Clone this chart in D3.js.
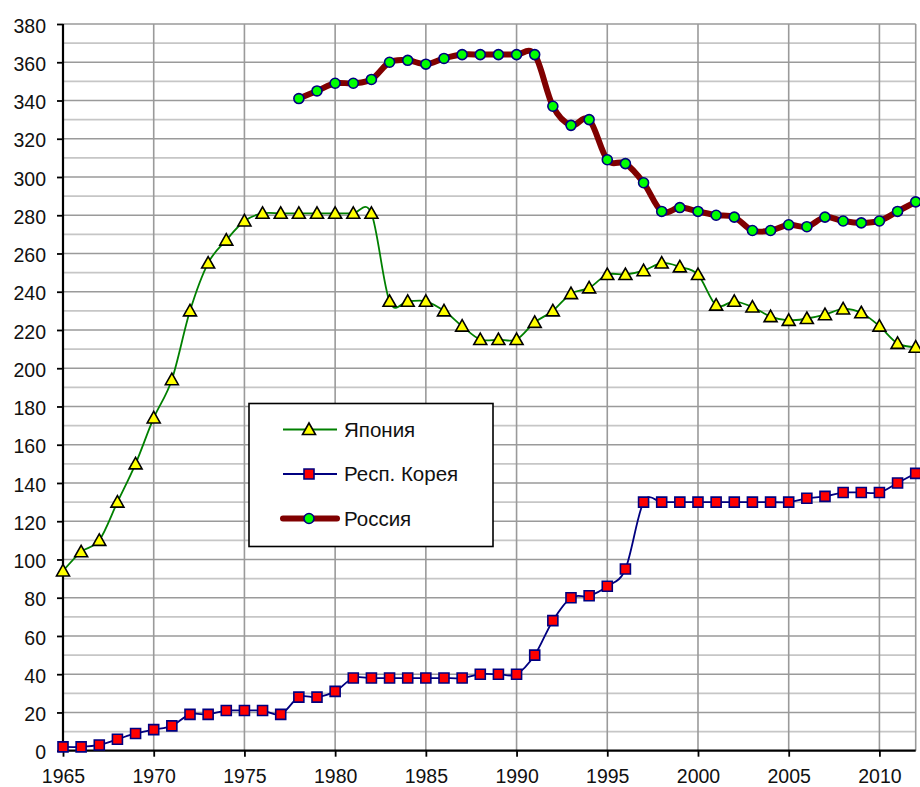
<!DOCTYPE html>
<html>
<head>
<meta charset="utf-8">
<script src="https://cdn.jsdelivr.net/npm/d3@7/dist/d3.min.js"></script>
<style>
  html, body { margin: 0; padding: 0; background: #fff; }
  svg { display: block; font-family: "Liberation Sans", Arial, sans-serif; }
</style>
</head>
<body>
<svg id="chart" width="920" height="787"></svg>
<script>
// Years and yearly values for each series
const yearsJapan = d3.range(1965, 2013);
const japan = [94, 104, 110, 130, 150, 174, 194, 230, 255, 267,
               277, 281, 281, 281, 281, 281, 281, 281, 235, 235,
               235, 230, 222, 215, 215, 215, 224, 230, 239, 242,
               249, 249, 251, 255, 253, 249, 233, 235, 232, 227,
               225, 226, 228, 231, 229, 222, 213, 211];

const yearsKorea = d3.range(1965, 2013);
const korea = [2, 2, 3, 6, 9, 11, 13, 19, 19, 21,
               21, 21, 19, 28, 28, 31, 38, 38, 38, 38,
               38, 38, 38, 40, 40, 40, 50, 68, 80, 81,
               86, 95, 130, 130, 130, 130, 130, 130, 130, 130,
               130, 132, 133, 135, 135, 135, 140, 145];

const yearsRussia = d3.range(1978, 2013);
const russia = [341, 345, 349, 349, 351, 360, 361, 359, 362, 364,
                364, 364, 364, 364, 337, 327, 330, 309, 307, 297,
                282, 284, 282, 280, 279, 272, 272, 275, 274, 279,
                277, 276, 277, 282, 287];

const seriesNames = ["Япония", "Респ. Корея", "Россия"];
const xTicks = [1965, 1970, 1975, 1980, 1985, 1990, 1995, 2000, 2005, 2010];
const yTicks = d3.range(0, 381, 20);
const yMinor = d3.range(10, 380, 20);

const svg = d3.select("#chart");
const plotLeft = 63, plotRight = 915.7, plotTop = 24, plotBottom = 750.7;

const x = d3.scaleLinear().domain([1965, 2012]).range([plotLeft, plotRight]);
const y = d3.scaleLinear().domain([0, 380]).range([plotBottom, plotTop]);

// Grid: light minor lines, darker major lines, vertical lines every 5 years
const grid = svg.append("g");
grid.selectAll("line.minor").data(yMinor).join("line").attr("class", "minor")
  .attr("x1", plotLeft).attr("x2", plotRight)
  .attr("y1", d => y(d)).attr("y2", d => y(d))
  .attr("stroke", "#c6c6c6").attr("stroke-width", 1.6);
grid.selectAll("line.major").data(yTicks.filter(d => d > 0)).join("line").attr("class", "major")
  .attr("x1", plotLeft).attr("x2", plotRight)
  .attr("y1", d => y(d)).attr("y2", d => y(d))
  .attr("stroke", "#9a9a9a").attr("stroke-width", 1.6);
grid.selectAll("line.vert").data(xTicks.filter(d => d > 1965).concat([2012])).join("line").attr("class", "vert")
  .attr("x1", d => x(d)).attr("x2", d => x(d))
  .attr("y1", plotTop).attr("y2", plotBottom)
  .attr("stroke", "#9a9a9a").attr("stroke-width", 1.6);

// Axes
const yAxis = d3.axisLeft(y).tickValues(yTicks).tickSize(6).tickPadding(11).tickFormat(d3.format("d"));
const xAxis = d3.axisBottom(x).tickValues(xTicks).tickSize(6).tickPadding(12).tickFormat(d3.format("d"));

const gy = svg.append("g").attr("transform", `translate(${plotLeft},0)`).call(yAxis);
const gx = svg.append("g").attr("transform", `translate(0,${plotBottom})`).call(xAxis);
[gy, gx].forEach(g => {
  g.select(".domain").attr("stroke", "#000").attr("stroke-width", 2.2);
  g.selectAll(".tick line").attr("stroke", "#000").attr("stroke-width", 1.8);
  g.selectAll(".tick text").attr("fill", "#111").attr("font-size", "19.5px")
    .attr("font-family", "Liberation Sans, Arial, sans-serif");
});
gy.select(".domain").attr("d", `M0,${plotTop}V${plotBottom}`);
gx.select(".domain").attr("d", `M${plotLeft},0H${plotRight}`);
gy.selectAll(".tick text").attr("dy", "0.42em");

const curve = d3.curveCardinal.tension(0);
const lineGen = (xs) => d3.line().x((d, i) => x(xs[i])).y(d => y(d)).curve(curve);

const plot = svg.append("g");

// Japan
plot.append("path").datum(japan).attr("d", lineGen(yearsJapan))
  .attr("fill", "none").attr("stroke", "#008000").attr("stroke-width", 1.8);
// Korea
plot.append("path").datum(korea).attr("d", lineGen(yearsKorea))
  .attr("fill", "none").attr("stroke", "#000080").attr("stroke-width", 1.8);
// Russia
plot.append("path").datum(russia).attr("d", lineGen(yearsRussia))
  .attr("fill", "none").attr("stroke", "#800000").attr("stroke-width", 6)
  .attr("stroke-linejoin", "round");

const triPath = "M0,-6.5L6.5,5L-6.5,5Z";
const sqPath = "M-5,-5H5V5H-5Z";

function styleMarker(sel, kind) {
  if (kind === "tri") {
    sel.attr("d", triPath).attr("fill", "#ffff00").attr("stroke", "#000").attr("stroke-width", 1.6)
      .attr("stroke-linejoin", "miter");
  } else if (kind === "sq") {
    sel.attr("d", sqPath).attr("fill", "#ff0000").attr("stroke", "#000080").attr("stroke-width", 1.6);
  } else {
    sel.attr("d", d3.symbol(d3.symbolCircle, 78)()).attr("fill", "#00ff00")
      .attr("stroke", "#000080").attr("stroke-width", 1.6);
  }
}
function markers(vals, xs, kind) {
  const g = plot.append("g");
  const sel = g.selectAll("path").data(vals).join("path")
    .attr("transform", (d, i) => `translate(${x(xs[i])},${y(d)})`);
  styleMarker(sel, kind);
}
markers(japan, yearsJapan, "tri");
markers(korea, yearsKorea, "sq");
markers(russia, yearsRussia, "circ");

// Legend
const legend = svg.append("g");
legend.append("rect").attr("x", 249).attr("y", 403.5).attr("width", 244).attr("height", 143)
  .attr("fill", "#fff").attr("stroke", "#000").attr("stroke-width", 1.6);
const legendItems = [
  { name: seriesNames[0], color: "#008000", w: 1.8, kind: "tri" },
  { name: seriesNames[1], color: "#000080", w: 1.8, kind: "sq" },
  { name: seriesNames[2], color: "#800000", w: 6, kind: "circ" }
];
legendItems.forEach((it, i) => {
  const cy = 429.5 + i * 44.5;
  const g = legend.append("g").attr("transform", `translate(0,${cy})`);
  g.append("line").attr("x1", 283).attr("x2", 337).attr("y1", 0).attr("y2", 0)
    .attr("stroke", it.color).attr("stroke-width", it.w)
    .attr("stroke-linecap", it.kind === "circ" ? "round" : "butt");
  styleMarker(g.append("path").attr("transform", "translate(309,0)"), it.kind);
  g.append("text").attr("x", 344).attr("y", 0).attr("dy", "0.36em")
    .attr("font-size", "20.5px").attr("fill", "#111").text(it.name);
});
</script>
</body>
</html>
